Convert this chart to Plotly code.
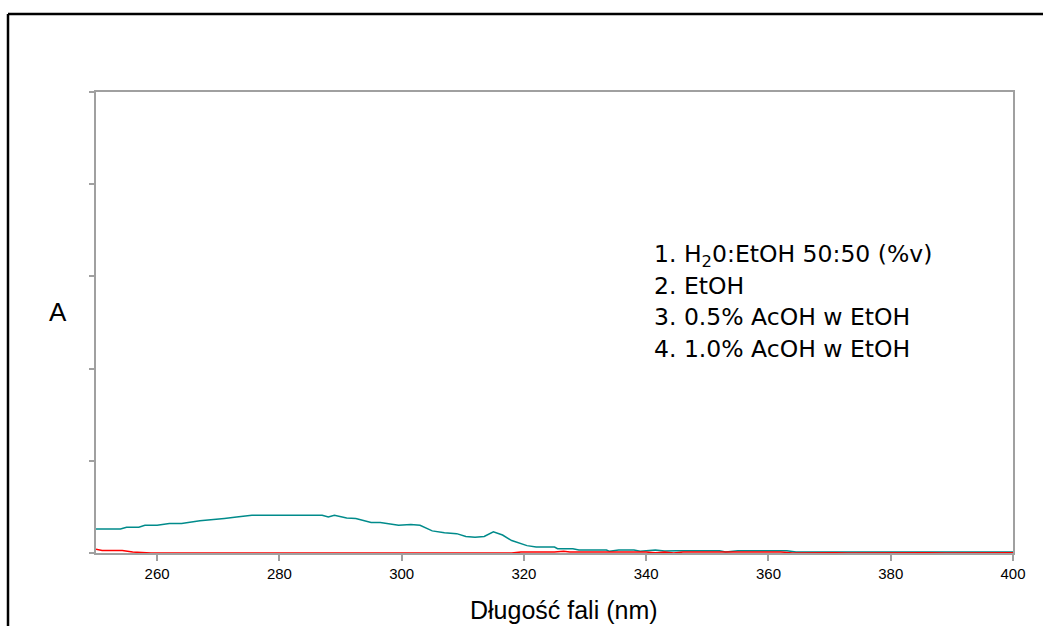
import plotly.graph_objects as go

# Absorbance spectra (wavelength in nm, absorbance in arbitrary units)
wl_teal = [250, 254, 255, 257, 258, 260, 262, 264, 267, 269, 271, 273, 275.5, 287, 288,
           289, 291, 292.5, 295, 296.5, 299.5, 301.5, 303, 305, 307, 309, 310.5, 312,
           313.5, 315, 316.5, 318, 320.5, 322, 325, 325.5, 328, 329, 333.5, 334, 335.5,
           338, 339, 341.5, 343, 345, 350, 352, 353, 355, 360, 362, 363, 364.5, 370,
           380, 390, 400]
abs_teal = [0.26, 0.26, 0.28, 0.28, 0.30, 0.30, 0.32, 0.32, 0.35, 0.36, 0.375, 0.39, 0.41,
            0.41, 0.39, 0.41, 0.38, 0.375, 0.33, 0.33, 0.30, 0.31, 0.30, 0.24, 0.22, 0.21,
            0.18, 0.17, 0.18, 0.23, 0.195, 0.135, 0.08, 0.065, 0.065, 0.047, 0.047, 0.033,
            0.033, 0.018, 0.033, 0.033, 0.018, 0.033, 0.022, 0.025, 0.025, 0.025, 0.012,
            0.025, 0.025, 0.022, 0.025, 0.012, 0.012, 0.012, 0.012, 0.012]

wl_red = [250, 251, 254.3, 256, 259, 318, 319.5, 325, 326.5, 327.5, 340, 341.5, 343,
          344.5, 346, 355, 357, 358, 359, 362, 364, 366, 368, 371, 373, 378, 381, 386,
          389, 396, 400]
abs_red = [0.04, 0.027, 0.027, 0.01, 0.0, 0.0, 0.01, 0.01, 0.02, 0.01, 0.01, 0.002, 0.01,
           0.0, 0.01, 0.01, 0.012, 0.004, 0.012, 0.012, 0.0, 0.003, 0.0, 0.003, 0.0, 0.003,
           0.0, 0.003, 0.0, 0.003, 0.003]

legend_lines = ["1. H<sub>2</sub>0:EtOH 50:50 (%v)", "2. EtOH",
                "3. 0.5% AcOH w EtOH", "4. 1.0% AcOH w EtOH"]

x_ticks = [260, 280, 300, 320, 340, 360, 380, 400]

W, H = 1043, 626
L, R, T, B = 96, 30, 92, 73
pw, ph = W - L - R, H - T - B


def px(x):
    return (x - L) / pw


def py(y):
    return (H - B - y) / ph


fig = go.Figure()
fig.add_trace(go.Scatter(x=wl_teal, y=abs_teal, mode="lines",
                         line=dict(color="#008B8B", width=1.5), showlegend=False))
fig.add_trace(go.Scatter(x=wl_red, y=abs_red, mode="lines",
                         line=dict(color="#FF0000", width=1.5), showlegend=False))

axis_gray = "#A0A0A0"
fig.update_xaxes(range=[250, 400], tickvals=x_ticks, ticks="outside", ticklen=6,
                 tickcolor=axis_gray, tickwidth=1.5, showline=True, linecolor=axis_gray,
                 linewidth=2, mirror=True, showgrid=False, zeroline=False,
                 tickfont=dict(family="Liberation Sans", size=15, color="black"))
fig.update_yaxes(range=[0, 5], dtick=1, ticks="outside", ticklen=5, tickcolor=axis_gray,
                 tickwidth=1.5, showticklabels=False, showline=True, linecolor=axis_gray,
                 linewidth=2, mirror=True, showgrid=False, zeroline=False)

# outer black frame (open to the right and bottom)
fig.add_shape(type="line", xref="paper", yref="paper", x0=px(8), y0=py(14), x1=px(1050),
              y1=py(14), line=dict(color="black", width=2.5))
fig.add_shape(type="line", xref="paper", yref="paper", x0=px(8), y0=py(14), x1=px(8),
              y1=py(640), line=dict(color="black", width=2.5))

line_y = [255, 286, 317, 349]
for txt, yy in zip(legend_lines, line_y):
    fig.add_annotation(text=txt, xref="paper", yref="paper", x=px(652), y=py(yy),
                       xanchor="left", yanchor="middle", showarrow=False,
                       font=dict(family="DejaVu Sans", size=23.5, color="black"))

fig.add_annotation(text="A", xref="paper", yref="paper", x=px(57.5), y=py(312),
                   xanchor="center", yanchor="middle", showarrow=False,
                   font=dict(family="Liberation Sans", size=26, color="black"))
fig.add_annotation(text="Długość fali (nm)", xref="paper", yref="paper", x=px(564),
                   y=py(610), xanchor="center", yanchor="middle", showarrow=False,
                   font=dict(family="Liberation Sans", size=25, color="black"))

fig.update_layout(width=W, height=H, margin=dict(l=L, r=R, t=T, b=B),
                  paper_bgcolor="white", plot_bgcolor="white")

fig.write_html("out.html")
